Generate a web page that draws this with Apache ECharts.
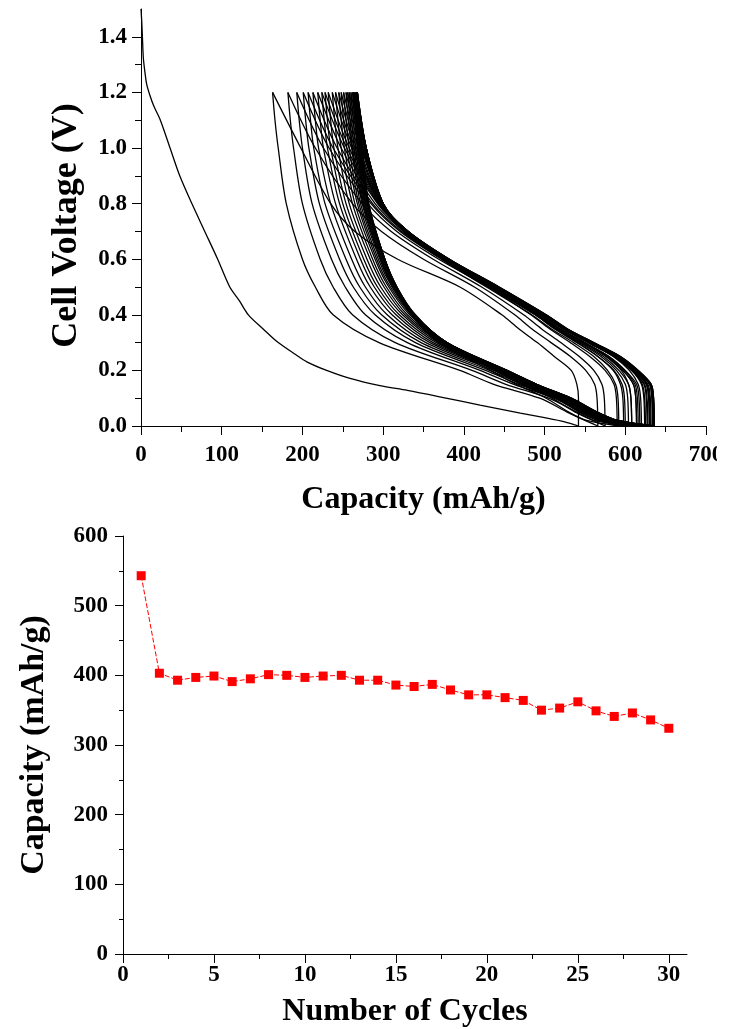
<!DOCTYPE html>
<html>
<head>
<meta charset="utf-8">
<script src="https://cdn.jsdelivr.net/npm/echarts@6/dist/echarts.min.js"></script>
<style>
html, body { margin: 0; padding: 0; background: #fff; }
#chart { width: 717px; height: 1029px; }
</style>
</head>
<body>
<div id="chart"></div>
<script>
// first discharge, [capacity, voltage]
var firstDischarge = [[0,1.5],[1,1.45],[2,1.38],[3,1.32],[5,1.27],[7,1.23],[11,1.19],[16,1.15],[24,1.1],[36,1.0],[48,0.9],[63,0.8],[79,0.7],[95,0.6],[110,0.5],[122,0.45],[133,0.4],[151,0.35],[170,0.3],[190,0.26],[206,0.23],[230,0.2],[259,0.171],[296,0.145],[330,0.128],[370,0.105],[420,0.075],[470,0.046],[500,0.03],[525,0.015],[542,0]];

// discharge curves, cycles 2..30: capacity read at these voltages
var dischargeV = [1.2, 1.1, 1.0, 0.8, 0.6, 0.5, 0.4, 0.3, 0.2, 0.15, 0.1, 0.05, 0.02, 0];
var dischargeCap = [
  [163,166,170,180,200,216,238,295,395,437,494,528,550,566],
  [182,185,189,200,222,238,262,315,410,452,505,540,560,575],
  [193,196,200,212,236,253,278,330,420,462,512,548,570,590],
  [201,204,208,221,246,263,290,340,427,468,516,552,575,600],
  [207,210,214,228,254,271,298,347,432,472,519,554,576,598],
  [213,216,220,235,261,278,305,353,437,476,522,556,580,608],
  [219,222,226,241,267,284,311,358,441,479,525,558,583,620],
  [224,227,231,246,272,289,316,362,444,482,527,560,585,624],
  [228,231,235,250,276,293,320,366,447,484,529,562,587,625],
  [232,235,239,254,280,297,324,369,449,486,531,563,588,631],
  [237,240,244,258,284,301,327,372,451,488,532,564,590,636],
  [241,244,248,262,287,304,330,374,452,489,533,565,590,634],
  [245,248,252,265,290,307,333,376,453,490,533,565,591,636],
  [248,251,255,268,292,309,335,377,453,490,533,565,590,634],
  [251,254,258,270,294,311,336,378,453,490,532,564,590,635],
  [254,257,261,272,296,312,337,379,454,490,532,564,590,636],
  [256,259,262,274,297,313,338,379,453,489,531,563,588,635],
  [258,261,264,275,298,314,338,379,452,488,530,561,586,630],
  [260,263,266,276,299,315,339,379,451,487,529,560,585,632],
  [262,265,268,277,300,316,339,379,450,486,527,558,583,630],
  [263,266,269,278,301,316,339,378,449,484,525,556,581,627],
  [264,267,270,279,301,316,339,377,446,481,521,551,575,614],
  [265,268,271,280,302,317,339,377,446,481,521,551,576,618],
  [266,269,272,281,302,317,340,378,448,483,523,554,580,628],
  [267,270,273,281,302,317,339,376,444,478,518,548,572,616],
  [267,270,273,281,302,316,338,374,441,474,513,543,566,608],
  [268,271,274,282,302,316,338,375,442,476,515,545,569,614],
  [268,271,274,282,302,316,337,372,438,471,509,538,561,604],
  [268,271,274,282,301,315,335,369,433,465,502,530,552,592]
];

// charge curves, cycles 1..30: capacity read at these voltages
var chargeV = [0, 0.1, 0.15, 0.2, 0.25, 0.3, 0.35, 0.4, 0.5, 0.6, 0.7, 0.8, 1.0, 1.2];
var chargeCap = [
  [542,542,540,533,512,491,468,447,395,318,265,235,198,163],
  [566,565,562,551,532,508,484,463,413,350,298,262,216,182],
  [575,574,571,561,543,520,496,474,422,362,310,274,226,193],
  [590,589,586,575,556,532,506,483,430,369,317,281,233,201],
  [600,599,596,586,566,540,512,489,434,373,321,285,238,207],
  [598,597,594,585,566,541,514,490,435,374,323,287,243,213],
  [608,607,604,595,576,549,519,494,438,377,326,290,248,219],
  [620,619,616,605,585,555,523,497,440,379,328,293,252,224],
  [624,623,620,608,588,557,525,499,441,380,329,294,255,228],
  [625,624,621,609,589,558,526,500,442,381,330,295,258,232],
  [631,630,627,613,592,560,527,501,443,382,331,296,261,237],
  [636,635,632,616,594,561,528,502,444,382,331,297,263,241],
  [634,633,630,614,593,560,527,501,443,382,331,297,265,245],
  [636,635,632,616,594,561,528,502,443,382,331,297,267,248],
  [634,633,630,614,592,559,527,501,442,381,331,298,269,251],
  [635,634,631,615,593,560,527,501,442,381,331,298,271,254],
  [636,635,632,615,593,560,527,500,441,380,331,299,273,256],
  [635,634,631,614,592,559,526,500,441,380,330,299,274,258],
  [630,629,626,611,589,557,525,499,440,379,330,299,275,260],
  [632,631,628,612,590,557,525,498,439,379,330,300,276,262],
  [630,629,626,610,588,556,524,497,438,378,329,300,277,263],
  [627,626,623,608,586,554,523,496,437,378,329,300,278,264],
  [614,613,610,597,577,548,518,492,434,376,328,299,278,265],
  [618,617,614,600,580,550,519,493,435,377,328,300,279,266],
  [628,627,624,608,586,554,522,495,436,377,329,300,279,267],
  [616,615,612,599,579,549,518,492,434,376,328,300,279,267],
  [608,607,604,592,573,545,515,490,432,375,327,299,279,268],
  [614,613,610,597,577,548,517,491,433,375,327,300,279,268],
  [604,603,600,589,570,543,513,488,431,374,326,299,279,268],
  [592,591,588,578,561,536,508,484,428,372,325,298,279,268]
];
var voltageTicks = [0, 0.2, 0.4, 0.6, 0.8, 1.0, 1.2, 1.4];

// cycling capacity
var cycles = [1,2,3,4,5,6,7,8,9,10,11,12,13,14,15,16,17,18,19,20,21,22,23,24,25,26,27,28,29,30];
var cycleCapacity = [543,403,393,397,399,391,395,401,400,397,399,400,393,393,386,384,387,379,372,372,368,364,350,353,362,349,341,346,336,324];
var cycleTicks = [0, 5, 10, 15, 20, 25, 30];

var chart = echarts.init(document.getElementById('chart'));

var font = 'Liberation Serif, Times New Roman, serif';
function axisStyle(extra) {
    var base = {
        axisLine: { show: true, onZero: false, lineStyle: { color: '#000', width: 1 } },
        axisTick: { show: true, inside: false, length: 9, lineStyle: { color: '#000' } },
        minorTick: { show: true, splitNumber: 2, length: 6, lineStyle: { color: '#000' } },
        splitLine: { show: false },
        axisLabel: { color: '#000', fontFamily: font, fontWeight: 'bold', fontSize: 23 },
        nameLocation: 'middle',
        nameTextStyle: { color: '#000', fontFamily: font, fontWeight: 'bold', fontSize: 32 }
    };
    for (var k in extra) {
        if (typeof extra[k] === 'object' && !Array.isArray(extra[k]) && base[k]) {
            for (var j in extra[k]) base[k][j] = extra[k][j];
        } else {
            base[k] = extra[k];
        }
    }
    return base;
}

function curve(points) {
    return {
        type: 'line',
        xAxisIndex: 0,
        yAxisIndex: 0,
        data: points,
        symbol: 'none',
        smooth: 0.3,
        silent: true,
        lineStyle: { color: '#000', width: 1.3 }
    };
}

var series = [curve(firstDischarge)];
dischargeCap.forEach(function (caps) {
    series.push(curve(caps.map(function (c, i) { return [c, dischargeV[i]]; })));
});
chargeCap.forEach(function (caps) {
    series.push(curve(caps.map(function (c, i) { return [c, chargeV[i]]; })));
});

series.push({
    type: 'line',
    xAxisIndex: 1,
    yAxisIndex: 1,
    data: cycles.map(function (c, i) { return [c, cycleCapacity[i]]; }),
    symbol: 'rect',
    symbolSize: 9,
    itemStyle: { color: '#ff0000' },
    lineStyle: { color: '#ff0000', width: 1, type: [5, 2] }
});

chart.setOption({
    animation: false,
    backgroundColor: '#fff',
    grid: [
        { left: 141, top: 9, width: 565, height: 417, containLabel: false, outerBoundsMode: 'none' },
        { left: 123, top: 536, width: 564, height: 418, containLabel: false, outerBoundsMode: 'none' }
    ],
    xAxis: [
        axisStyle({
            gridIndex: 0, type: 'value', min: 0, max: 700, interval: 100,
            name: 'Capacity (mAh/g)', nameGap: 58,
            axisLabel: { margin: 18 }
        }),
        axisStyle({
            gridIndex: 1, type: 'value', min: 0, max: 31, interval: 5,
            name: 'Number of Cycles', nameGap: 42,
            axisTick: { length: 9, customValues: cycleTicks },
            minorTick: { length: 5 },
            axisLabel: { margin: 10, customValues: cycleTicks }
        })
    ],
    yAxis: [
        axisStyle({
            gridIndex: 0, type: 'value', min: 0, max: 1.5, interval: 0.2,
            name: 'Cell Voltage (V)', nameGap: 56, nameRotate: 90,
            nameTextStyle: { fontSize: 36, padding: [0, 16, 0, 0] },
            axisTick: { length: 9, customValues: voltageTicks },
            axisLabel: { margin: 14, customValues: voltageTicks, formatter: function (v) { return v.toFixed(1); } }
        }),
        axisStyle({
            gridIndex: 1, type: 'value', min: 0, max: 600, interval: 100,
            name: 'Capacity (mAh/g)', nameGap: 72, nameRotate: 90,
            nameTextStyle: { fontSize: 34 },
            axisTick: { length: 8 },
            minorTick: { length: 4 },
            axisLabel: { margin: 15 }
        })
    ],
    series: series
});
</script>
</body>
</html>
